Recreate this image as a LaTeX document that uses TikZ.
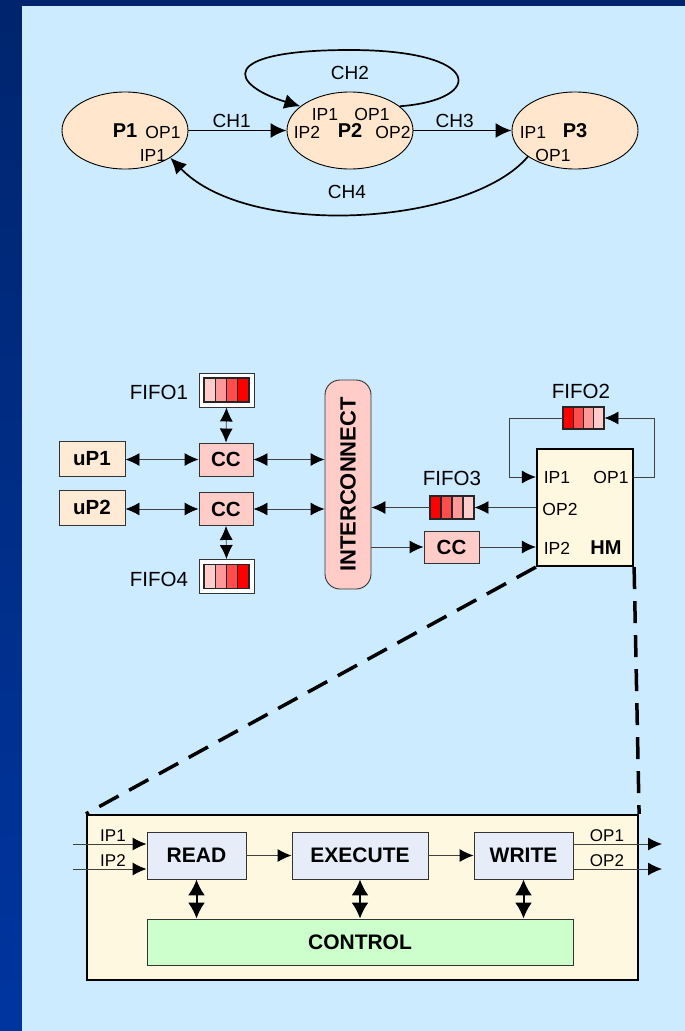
\documentclass[tikz,border=0pt]{standalone}
\usepackage{fontspec}
\setmainfont{Liberation Sans}
\usetikzlibrary{arrows.meta,shapes.geometric}
\definecolor{navytop}{HTML}{00256E}
\definecolor{navybot}{HTML}{0035A0}
\definecolor{slidebg}{HTML}{CCEBFF}
\definecolor{procfill}{HTML}{FFE6CC}
\definecolor{upfill}{HTML}{FFEAD5}
\definecolor{ccfill}{HTML}{FFCCC8}
\definecolor{hmfill}{HTML}{FFF8E1}
\definecolor{stagefill}{HTML}{E6EDF9}
\definecolor{ctrlfill}{HTML}{CCFFCC}
\definecolor{cellA}{HTML}{FFCCCC}
\definecolor{cellB}{HTML}{FF9999}
\definecolor{cellC}{HTML}{FF4D4D}
\definecolor{cellD}{HTML}{FF0000}
\tikzset{
  proc/.style={ellipse, draw, fill=procfill, minimum width=126pt, minimum height=77pt,
    inner sep=0pt, font=\fontsize{20}{22}\selectfont\bfseries},
  port/.style={inner sep=0pt, font=\fontsize{17.5}{19}\selectfont},
  chan/.style={inner sep=2pt, font=\fontsize{19}{21}\selectfont},
  tag/.style={inner sep=0pt, font=\fontsize{20.5}{22}\selectfont},
  blk/.style={draw=black!80, inner sep=0pt, font=\fontsize{20.5}{22}\selectfont\bfseries},
  stage/.style={blk, fill=stagefill, minimum height=47pt, font=\fontsize{21}{23}\selectfont\bfseries},
  fifobox/.style={draw=black!80, fill=white, inner sep=0pt, minimum width=55pt, minimum height=34pt},
  fifocell/.style={draw=black!85, line width=1.1pt, inner sep=0pt},
  bigarrow/.style={<->, line width=2pt, >={Latex[length=16pt,width=17pt]}}
}
\begin{document}
\begin{tikzpicture}[x=1pt, y=-1pt, >={Latex[length=14pt,width=13pt,color=black]}, line width=0.9pt]
  \useasboundingbox (0,0) rectangle (685,1031);
  \shade[top color=navytop, bottom color=navybot] (0,0) rectangle (685,1031);
  \fill[slidebg] (22,6) rectangle (685,1031);

  \node[proc] (p1) at (125,130.5) {P1};
  \node[proc] (p2) at (350,130.5) {P2};
  \node[proc] (p3) at (575,130.5) {P3};
  \foreach \n/\t/\x/\y in {p1o/OP1/163/132, p1i/IP1/153/155, p2i1/IP1/325/114,
      p2o1/OP1/372/114, p2i2/IP2/307/132, p2o2/OP2/393/132, p3i/IP1/533/132,
      p3o/OP1/553/155}
    \node[port] (\n) at (\x,\y) {\t};
  \begin{scope}[line width=1.7pt, >={Latex[length=16pt,width=15pt]}]
    \draw[->] (p1.east) -- node[chan, above, pos=0.44] (ch1) {CH1} (p2.west);
    \draw[->] (p2.east) -- node[chan, above, pos=0.42] (ch3) {CH3} (p3.west);
    \draw[->] (p2.26) .. controls (485,100) and (485,50) .. (350,50)
      .. controls (215,50) and (230,85) .. (p2.154);
    \draw[->] (p3.209) .. controls (470,225) and (250,240) .. (p1.329);
  \end{scope}
  \node[chan] (ch2) at (350,73) {CH2};
  \node[chan] (ch4) at (347,192) {CH4};

  \node[blk, fill=upfill, minimum width=66pt, minimum height=35pt] (up1) at (92,458.5) {uP1};
  \node[blk, fill=upfill, minimum width=66pt, minimum height=35pt] (up2) at (92,507.5) {uP2};
  \node[blk, fill=ccfill, minimum width=54pt, minimum height=33pt] (cc1) at (226,459.5) {CC};
  \node[blk, fill=ccfill, minimum width=54pt, minimum height=33pt] (cc2) at (226,509) {CC};
  \node[blk, fill=ccfill, minimum width=55pt, minimum height=32pt] (cc3) at (451.5,547) {CC};
  \node[blk, fill=ccfill, rounded corners=15pt, minimum width=46pt, minimum height=209pt,
    font=\fontsize{22}{24}\selectfont\bfseries] (ic) at (348,484.5) {};
  \node[rotate=90, inner sep=0pt, font=\fontsize{22}{24}\selectfont\bfseries] (ictext)
    at (ic.center) {INTERCONNECT};
  \node[blk, draw=black, line width=2.2pt, fill=hmfill, minimum width=96pt,
    minimum height=117pt] (hm) at (585,507.5) {};
  \foreach \n/\t/\x/\y in {hmip1/IP1/557/477, hmop1/OP1/611/477, hmop2/OP2/560/509,
      hmip2/IP2/557/548}
    \node[port] (\n) at (\x,\y) {\t};
  \node[inner sep=0pt, font=\fontsize{20}{22}\selectfont\bfseries] (hmname) at (606,548) {HM};

  \node[fifobox] (fifo1) at (226.5,390) {};
  \node[fifobox] (fifo4) at (226.5,576.5) {};
  \node[inner sep=0pt, minimum width=41pt, minimum height=22pt] (fifo2) at (583.5,418) {};
  \node[inner sep=0pt, minimum width=44pt, minimum height=23pt] (fifo3) at (452,507.5) {};
  \foreach \f/\w/\h/\cs in {fifo1/45/24/{cellA,cellB,cellC,cellD},
      fifo4/45/24/{cellA,cellB,cellC,cellD}, fifo2/41/22/{cellD,cellC,cellB,cellA},
      fifo3/44/23/{cellD,cellC,cellB,cellA}}
    \foreach \c [count=\i from 0] in \cs
      \draw[fifocell, fill=\c] ([shift={({-\w/2+\i*\w/4},{-\h/2})}]\f.center)
        rectangle ++(\w/4,\h);
  \node[tag] (fifo1t) at (159,392) {FIFO1};
  \node[tag] (fifo4t) at (159,579) {FIFO4};
  \node[tag] (fifo2t) at (581,391) {FIFO2};
  \node[tag] (fifo3t) at (452,478) {FIFO3};

  \begin{scope}[draw=black!75]
    \draw[<->] (up1.east |- cc1.west) -- (cc1.west);
    \draw[<->] (up2.east |- cc2.west) -- (cc2.west);
    \draw[<->] (cc1.east) -- (cc1.east -| ic.west);
    \draw[<->] (cc2.east) -- (cc2.east -| ic.west);
    \draw[<->] (fifo1.south) -- (cc1.north);
    \draw[<->] (cc2.south) -- (fifo4.north);
    \draw[->] (fifo3.east -| hm.west) -- (fifo3.east);
    \draw[->] (fifo3.west) -- (fifo3.west -| ic.east);
    \draw[->] (ic.east |- cc3.west) -- (cc3.west);
    \draw[->] (cc3.east) -- (cc3.east -| hm.west);
    \draw[->] (hm.east |- hmop1) -- ++(20,0) |- (fifo2.east);
    \draw[->] (fifo2.west) -- ++(-53,0) |- (hm.west |- hmip1);
  \end{scope}

  \node[draw=black, line width=2.2pt, fill=hmfill, inner sep=0pt, minimum width=551pt,
    minimum height=165pt] (hmx) at (362.5,897.5) {};
  \draw[line width=3.5pt, dash pattern=on 22pt off 12pt] (hm.south west) -- (hmx.north west);
  \draw[line width=3.5pt, dash pattern=on 22pt off 12pt] (hm.south east) -- (hmx.north east);
  \node[stage, minimum width=99pt] (read) at (196.5,855.5) {READ};
  \node[stage, minimum width=136pt] (exec) at (360,855.5) {EXECUTE};
  \node[stage, minimum width=99pt] (write) at (523.5,855.5) {WRITE};
  \node[stage, fill=ctrlfill, minimum width=426pt, minimum height=46pt] (ctrl) at (360,942) {CONTROL};
  \coordinate (in1) at (73,844);
  \coordinate (in2) at (73,869);
  \coordinate (out1) at (662,844);
  \coordinate (out2) at (662,869);
  \begin{scope}[draw=black!75]
    \draw[->] (in1) -- (in1 -| read.west);
    \draw[->] (in2) -- (in2 -| read.west);
    \draw[->] (out1 -| write.east) -- (out1);
    \draw[->] (out2 -| write.east) -- (out2);
    \draw[->] (read.east) -- (exec.west);
    \draw[->] (exec.east) -- (write.west);
  \end{scope}
  \draw[bigarrow] (read.south) -- (read.south |- ctrl.north);
  \draw[bigarrow] (exec.south) -- (exec.south |- ctrl.north);
  \draw[bigarrow] (write.south) -- (write.south |- ctrl.north);
  \foreach \n/\t/\x/\y in {ip1/IP1/113/836, ip2/IP2/113/861, op1/OP1/607/836, op2/OP2/607/861}
    \node[port, font=\fontsize{17}{19}\selectfont] (\n) at (\x,\y) {\t};
\end{tikzpicture}
\end{document}
